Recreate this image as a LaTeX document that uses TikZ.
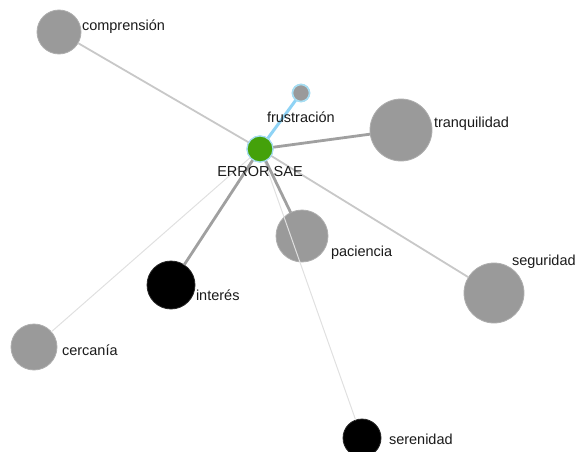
\documentclass[tikz,border=0pt]{standalone}
\usepackage{fontspec}
\setmainfont{Liberation Sans}
\begin{document}
\begin{tikzpicture}[x=1pt,y=-1pt,
  every node/.style={inner sep=0pt, outer sep=0pt},
  hubball/.style={circle, fill=hubgreen, draw=ringblue, line width=1.2pt, minimum size=26pt},
  smallball/.style={circle, fill=nodegray, draw=ringblue, line width=1.6pt, minimum size=17pt},
  grayball/.style={circle, fill=nodegray, draw=nodegray!80!white, line width=0.8pt},
  blackball/.style={circle, fill=black, draw=black!85!white, line width=0.8pt},
  lbl/.style={anchor=west, font=\fontsize{14.5}{16}\selectfont, text=labeltext},
  faint/.style={draw=edgefaint, line width=1pt},
  light/.style={draw=edgelight, line width=1.8pt},
  mid/.style={draw=edgemid, line width=2.8pt},
  blueedge/.style={draw=edgeblue, line width=3pt}
]
\definecolor{nodegray}{HTML}{9A9A9A}
\definecolor{labeltext}{HTML}{1A1A1A}
\definecolor{edgefaint}{HTML}{E0E0E0}
\definecolor{edgelight}{HTML}{C8C8C8}
\definecolor{edgemid}{HTML}{A0A0A0}
\definecolor{edgeblue}{HTML}{8FD3F5}
\definecolor{hubgreen}{HTML}{44A10A}
\definecolor{ringblue}{HTML}{A6DDF2}

\useasboundingbox (0,0) rectangle (576,452);

% nodes
\node[hubball] (hub) at (260,149) {};
\node[smallball] (fru) at (301,93) {};
\node[grayball, minimum size=44pt] (com) at (59,32) {};
\node[grayball, minimum size=62pt] (tra) at (401,130) {};
\node[grayball, minimum size=52pt] (pac) at (302,236) {};
\node[grayball, minimum size=60pt] (seg) at (494,293) {};
\node[blackball, minimum size=48pt] (int) at (171,285) {};
\node[grayball, minimum size=46pt] (cer) at (34,347) {};
\node[blackball, minimum size=38pt] (ser) at (362,438) {};

% connectors from the hub
\draw[faint] (hub) -- (cer);
\draw[faint] (hub) -- (ser);
\draw[light] (hub) -- (com);
\draw[light] (hub) -- (seg);
\draw[mid] (hub) -- (tra);
\draw[mid] (hub) -- (pac);
\draw[mid] (hub) -- (int);
\draw[blueedge] (hub) -- (fru);

% hub and frustración drawn again above the connectors
\node[hubball] at (hub) {};
\node[smallball] at (fru) {};

% labels
\node[anchor=north, font=\fontsize{14.5}{16}\selectfont, text=labeltext] (hublbl) at (260,166) {ERROR SAE};
\node[lbl] (frulbl) at (267,117) {frustración};
\node[lbl] (comlbl) at (82,27) {comprensión};
\node[lbl] (tralbl) at (434,124) {tranquilidad};
\node[lbl] (paclbl) at (331,253) {paciencia};
\node[lbl] (seglbl) at (512,262) {seguridad};
\node[lbl] (intlbl) at (196,295) {interés};
\node[lbl] (cerlbl) at (62,350) {cercanía};
\node[lbl] (serlbl) at (389,439) {serenidad};
\end{tikzpicture}
\end{document}
